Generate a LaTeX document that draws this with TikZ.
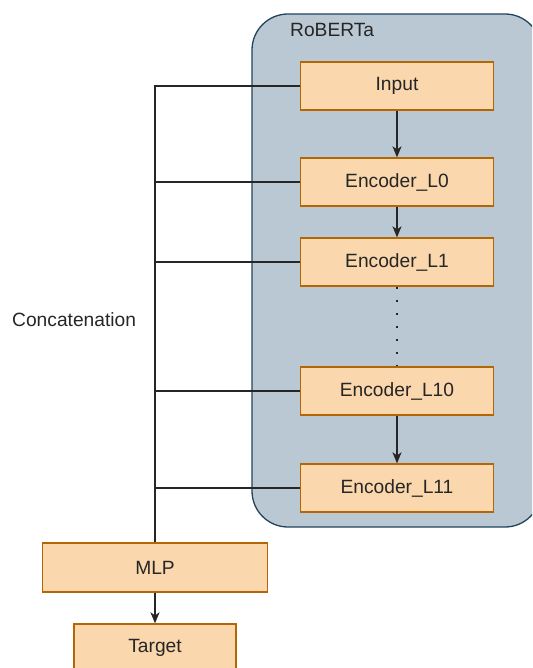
\documentclass[tikz,border=0pt]{standalone}
\usepackage{fontspec}
\setmainfont{Liberation Sans}
\usetikzlibrary{arrows.meta}
\begin{document}
\begin{tikzpicture}[x=1pt,y=-1pt,
  box/.style={draw=boxline,fill=boxfill,line width=1.3pt,minimum width=193pt,minimum height=48pt,inner sep=0pt,font=\fontsize{19.2}{22}\selectfont,text=black!85},
  conn/.style={line width=1.4pt,draw=black!85},
  arr/.style={conn,-{Stealth[length=11pt,width=9pt,inset=3pt]}},
  lbl/.style={font=\fontsize{19.2}{22}\selectfont,text=black!85,inner sep=0pt}]
\definecolor{boxfill}{HTML}{FAD7AC}
\definecolor{boxline}{HTML}{B46504}
\definecolor{grpfill}{HTML}{BAC8D3}
\definecolor{grpline}{HTML}{23445D}
\useasboundingbox (0,0) rectangle (532,668);
\clip (0,0) rectangle (532,668);
\draw[fill=grpfill,draw=grpline,line width=1.3pt,rounded corners=36pt] (252,14) rectangle (541,527);
\node[lbl,anchor=west] (rob) at (290,30) {RoBERTa};
\node[box] (in) at (397,86) {Input};
\node[box] (l0) at (397,182) {Encoder\_L0};
\node[box] (l1) at (397,262) {Encoder\_L1};
\node[box] (l10) at (397,391) {Encoder\_L10};
\node[box] (l11) at (397,488) {Encoder\_L11};
\node[box,minimum width=225pt,minimum height=49pt] (mlp) at (155,567.5) {MLP};
\node[box,minimum width=162pt,minimum height=48pt] (tgt) at (155,648) {Target};
\node[lbl,anchor=west] (cat) at (12,320) {Concatenation};
\draw[arr] (in) -- (l0);
\draw[arr] (l0) -- (l1);
\draw[line width=2.2pt,draw=black!85,dash pattern=on 2.2pt off 10.8pt] (l1) -- (l10);
\draw[arr] (l10) -- (l11);
\draw[arr] (mlp) -- (tgt);
\coordinate (top) at (155,86);
\draw[conn] (in.west) -- (top) -- (top |- mlp.north);
\draw[conn] (l0.west) -- (l0.west -| top);
\draw[conn] (l1.west) -- (l1.west -| top);
\draw[conn] (l10.west) -- (l10.west -| top);
\draw[conn] (l11.west) -- (l11.west -| top);
\end{tikzpicture}
\end{document}
